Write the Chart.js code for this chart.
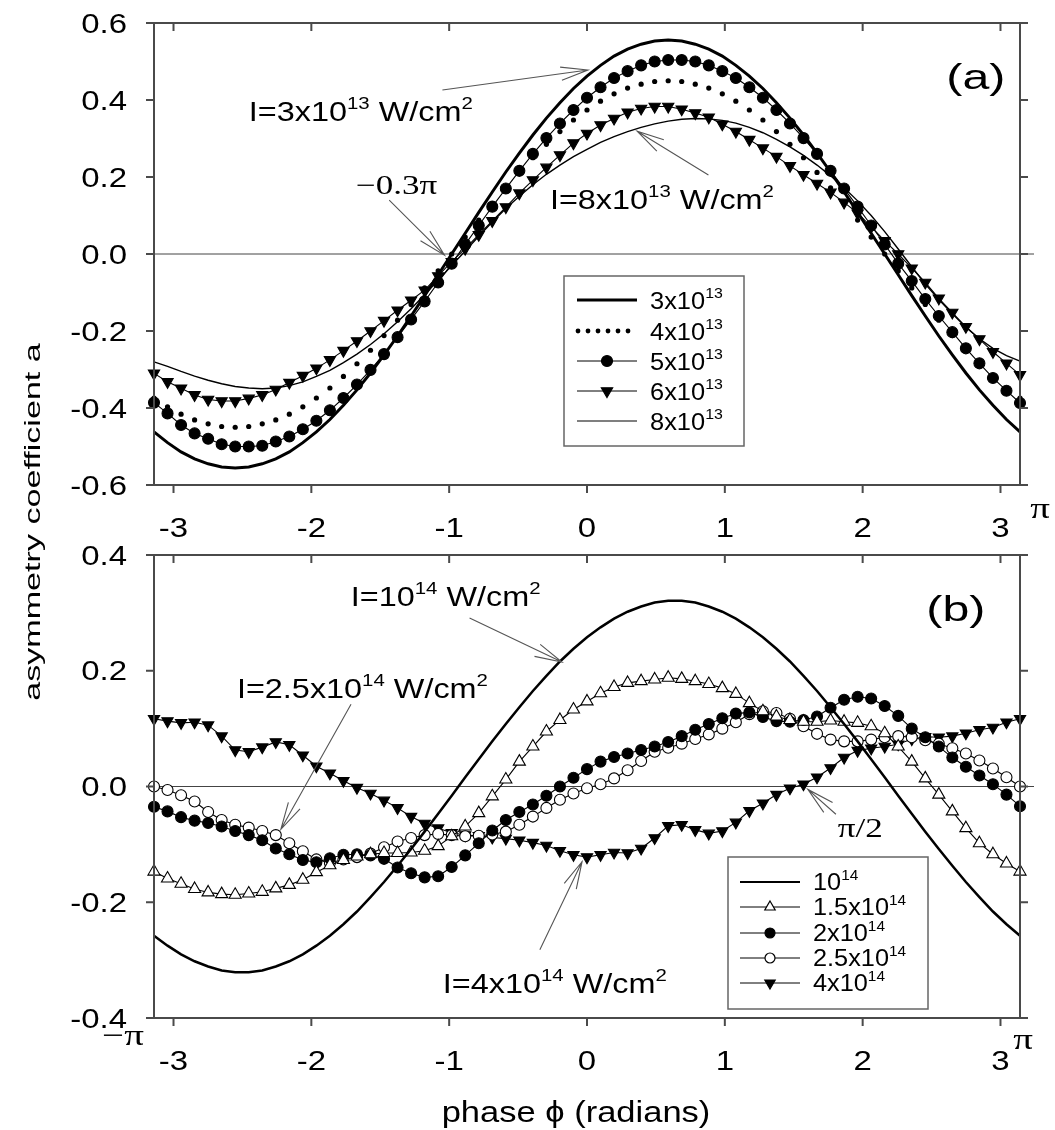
<!DOCTYPE html>
<html>
<head>
<meta charset="utf-8">
<script src="https://cdn.jsdelivr.net/npm/chart.js@4.4.1/dist/chart.umd.min.js"></script>
<style>
  html, body { margin: 0; padding: 0; background: #fff; }
  #wrap { position: relative; width: 1055px; height: 1130px; }
  #wrap canvas { position: absolute; left: 0; top: 0; }
</style>
</head>
<body>
<div id="wrap">
  <canvas id="chartA" width="1055" height="1130"></canvas>
  <canvas id="chartB" width="1055" height="1130"></canvas>
</div>
<script>
// phase grid: 65 samples from -pi to pi (step pi/32)
const phase = Array.from({ length: 65 }, (_, i) => -Math.PI + i * Math.PI / 32);

const xTicks = [-3, -2, -1, 0, 1, 2, 3];
const yTicksA = [-0.6, -0.4, -0.2, 0, 0.2, 0.4, 0.6];
const yTicksB = [-0.4, -0.2, 0, 0.2, 0.4];

const legendA = ['3x10^{13}', '4x10^{13}', '5x10^{13}', '6x10^{13}', '8x10^{13}'];
const legendB = ['10^{14}', '1.5x10^{14}', '2x10^{14}', '2.5x10^{14}', '4x10^{14}'];

// panel (a)
const a3e13 = [-0.462,-0.490,-0.514,-0.532,-0.545,-0.553,-0.556,-0.553,-0.545,-0.532,-0.514,-0.490,-0.462,-0.430,-0.393,-0.353,-0.309,-0.262,-0.213,-0.161,-0.108,-0.054,0.000,0.054,0.108,0.161,0.213,0.262,0.309,0.353,0.393,0.430,0.462,0.490,0.514,0.532,0.545,0.553,0.556,0.553,0.545,0.532,0.514,0.490,0.462,0.430,0.393,0.353,0.309,0.262,0.213,0.161,0.108,0.054,0.000,-0.054,-0.108,-0.161,-0.213,-0.262,-0.309,-0.353,-0.393,-0.430,-0.462];
const a4e13 = [-0.374,-0.397,-0.416,-0.431,-0.441,-0.448,-0.450,-0.448,-0.441,-0.431,-0.416,-0.397,-0.374,-0.348,-0.318,-0.285,-0.250,-0.212,-0.172,-0.131,-0.088,-0.044,0.000,0.044,0.088,0.131,0.172,0.212,0.250,0.285,0.318,0.348,0.374,0.397,0.416,0.431,0.441,0.448,0.450,0.448,0.441,0.431,0.416,0.397,0.374,0.348,0.318,0.285,0.250,0.212,0.172,0.131,0.088,0.044,0.000,-0.044,-0.088,-0.131,-0.172,-0.212,-0.250,-0.285,-0.318,-0.348,-0.374];
const a5e13 = [-0.386,-0.414,-0.444,-0.466,-0.480,-0.494,-0.500,-0.500,-0.498,-0.487,-0.474,-0.455,-0.433,-0.406,-0.374,-0.339,-0.301,-0.260,-0.216,-0.170,-0.123,-0.074,-0.025,0.025,0.074,0.123,0.170,0.216,0.260,0.301,0.339,0.374,0.406,0.433,0.457,0.475,0.490,0.500,0.504,0.504,0.500,0.490,0.475,0.457,0.433,0.406,0.374,0.339,0.301,0.260,0.216,0.170,0.123,0.074,0.025,-0.025,-0.070,-0.117,-0.161,-0.203,-0.245,-0.284,-0.322,-0.355,-0.387];
const a6e13 = [-0.310,-0.332,-0.349,-0.366,-0.378,-0.382,-0.382,-0.375,-0.366,-0.352,-0.334,-0.316,-0.297,-0.275,-0.251,-0.226,-0.200,-0.173,-0.146,-0.120,-0.094,-0.057,-0.020,0.014,0.050,0.086,0.122,0.158,0.192,0.225,0.257,0.288,0.313,0.335,0.352,0.368,0.378,0.383,0.383,0.376,0.366,0.355,0.337,0.318,0.297,0.275,0.253,0.229,0.206,0.183,0.160,0.134,0.106,0.071,0.034,0.000,-0.037,-0.074,-0.115,-0.152,-0.189,-0.221,-0.254,-0.284,-0.314];
const a8e13 = [-0.280,-0.292,-0.305,-0.317,-0.328,-0.337,-0.344,-0.348,-0.350,-0.348,-0.342,-0.332,-0.318,-0.302,-0.282,-0.260,-0.235,-0.207,-0.176,-0.142,-0.106,-0.068,-0.030,0.008,0.046,0.083,0.118,0.150,0.180,0.207,0.231,0.253,0.272,0.290,0.305,0.318,0.329,0.338,0.345,0.350,0.352,0.351,0.347,0.340,0.329,0.315,0.298,0.278,0.256,0.231,0.203,0.172,0.138,0.100,0.058,0.013,-0.033,-0.078,-0.118,-0.155,-0.190,-0.220,-0.245,-0.264,-0.278];

// panel (b)
const b1e14 = [-0.258,-0.275,-0.290,-0.302,-0.311,-0.318,-0.321,-0.321,-0.318,-0.311,-0.302,-0.290,-0.275,-0.258,-0.238,-0.216,-0.191,-0.165,-0.137,-0.108,-0.078,-0.047,-0.016,0.016,0.047,0.078,0.108,0.137,0.165,0.191,0.216,0.238,0.258,0.275,0.290,0.302,0.311,0.318,0.321,0.321,0.318,0.311,0.302,0.290,0.275,0.258,0.238,0.216,0.191,0.165,0.137,0.108,0.078,0.047,0.016,-0.016,-0.047,-0.078,-0.108,-0.137,-0.165,-0.191,-0.216,-0.238,-0.258];
const b15e14 = [-0.147,-0.159,-0.168,-0.177,-0.183,-0.186,-0.187,-0.185,-0.182,-0.176,-0.170,-0.161,-0.148,-0.136,-0.127,-0.121,-0.117,-0.115,-0.115,-0.114,-0.111,-0.103,-0.086,-0.069,-0.046,-0.017,0.012,0.043,0.069,0.095,0.115,0.133,0.147,0.161,0.172,0.179,0.182,0.185,0.188,0.186,0.182,0.177,0.170,0.160,0.144,0.130,0.121,0.115,0.112,0.112,0.114,0.112,0.110,0.104,0.092,0.069,0.043,0.014,-0.014,-0.043,-0.072,-0.098,-0.117,-0.133,-0.147];
const b2e14 = [-0.035,-0.043,-0.053,-0.059,-0.063,-0.069,-0.077,-0.084,-0.093,-0.107,-0.117,-0.127,-0.131,-0.124,-0.118,-0.117,-0.119,-0.125,-0.140,-0.150,-0.157,-0.155,-0.139,-0.119,-0.098,-0.076,-0.058,-0.044,-0.031,-0.016,0.000,0.015,0.030,0.043,0.051,0.057,0.063,0.069,0.077,0.087,0.098,0.108,0.118,0.126,0.128,0.120,0.113,0.112,0.115,0.121,0.136,0.150,0.155,0.152,0.139,0.122,0.100,0.085,0.069,0.050,0.034,0.019,0.004,-0.014,-0.034];
const b25e14 = [0.000,-0.006,-0.015,-0.026,-0.044,-0.058,-0.066,-0.071,-0.077,-0.084,-0.098,-0.112,-0.126,-0.132,-0.126,-0.122,-0.116,-0.105,-0.095,-0.089,-0.084,-0.082,-0.084,-0.086,-0.085,-0.083,-0.078,-0.066,-0.052,-0.037,-0.023,-0.012,-0.003,0.004,0.014,0.028,0.044,0.060,0.067,0.074,0.082,0.090,0.100,0.111,0.125,0.130,0.127,0.117,0.104,0.091,0.081,0.078,0.078,0.081,0.085,0.087,0.085,0.080,0.074,0.066,0.057,0.045,0.031,0.016,0.000];
const b4e14 = [0.117,0.113,0.110,0.111,0.106,0.087,0.063,0.060,0.068,0.077,0.072,0.054,0.035,0.023,0.010,-0.002,-0.012,-0.024,-0.037,-0.052,-0.064,-0.072,-0.080,-0.084,-0.085,-0.088,-0.090,-0.093,-0.097,-0.102,-0.111,-0.118,-0.122,-0.118,-0.114,-0.115,-0.107,-0.089,-0.068,-0.066,-0.075,-0.081,-0.077,-0.062,-0.042,-0.029,-0.014,-0.003,0.004,0.016,0.032,0.050,0.062,0.066,0.069,0.073,0.082,0.086,0.085,0.087,0.092,0.098,0.102,0.111,0.117];

const SANS = '"Liberation Sans", Arial, Helvetica, sans-serif';
const SERIF = '"Liberation Serif", "Times New Roman", serif';

// text with ^{..} superscripts, optionally stretched along its direction
function richText(ctx, str, x, y, o) {
  const size = o.size, fam = o.family || SANS, sx = o.sx || 1;
  const supSize = Math.round(size * 0.62);
  const parts = [];
  str.split(/(\^\{[^}]*\})/).forEach(s => {
    if (!s) return;
    if (s.startsWith('^{')) parts.push({ t: s.slice(2, -1), sup: true });
    else parts.push({ t: s, sup: false });
  });
  ctx.save();
  let w = 0;
  parts.forEach(p => {
    ctx.font = (p.sup ? supSize : size) + 'px ' + fam;
    p.w = ctx.measureText(p.t).width;
    w += p.w;
  });
  ctx.translate(x, y);
  if (o.rotate) ctx.rotate(o.rotate);
  ctx.scale(sx, 1);
  let cx = o.align === 'center' ? -w / 2 : o.align === 'right' ? -w : 0;
  const base = size * 0.36;
  ctx.fillStyle = '#000';
  ctx.textAlign = 'left';
  ctx.textBaseline = 'alphabetic';
  parts.forEach(p => {
    ctx.font = (p.sup ? supSize : size) + 'px ' + fam;
    ctx.fillText(p.t, cx, p.sup ? base - size * 0.45 : base);
    cx += p.w;
  });
  ctx.restore();
}

function arrow(ctx, x1, y1, x2, y2) {
  const a = Math.atan2(y2 - y1, x2 - x1), L = 28, h = 0.24;
  ctx.save();
  ctx.strokeStyle = '#555';
  ctx.lineWidth = 1.1;
  ctx.beginPath();
  ctx.moveTo(x1, y1); ctx.lineTo(x2, y2);
  ctx.moveTo(x2 - L * Math.cos(a - h), y2 - L * Math.sin(a - h));
  ctx.lineTo(x2, y2);
  ctx.lineTo(x2 - L * Math.cos(a + h), y2 - L * Math.sin(a + h));
  ctx.stroke();
  ctx.restore();
}

function marker(ctx, kind, x, y, r) {
  ctx.save();
  ctx.beginPath();
  if (kind.startsWith('circle')) {
    ctx.arc(x, y, r, 0, 2 * Math.PI);
  } else {
    const d = kind.includes('Down') ? -1 : 1;
    ctx.moveTo(x, y - d * r);
    ctx.lineTo(x + r * 0.866, y + d * r * 0.5);
    ctx.lineTo(x - r * 0.866, y + d * r * 0.5);
    ctx.closePath();
  }
  ctx.fillStyle = kind.includes('Open') ? '#fff' : '#000';
  ctx.fill();
  ctx.lineWidth = 1.2;
  ctx.strokeStyle = '#000';
  ctx.stroke();
  ctx.restore();
}

function tickText(v) {
  return (v < 0 ? '-' : '') + Math.abs(v).toFixed(1);
}

function panelPlugin(cfg) {
  return {
    id: 'panel' + cfg.name,
    beforeDatasetsDraw(chart) {
      const { ctx, chartArea: ca, scales: { y } } = chart;
      const y0 = y.getPixelForValue(0);
      ctx.save();
      ctx.strokeStyle = '#444';
      ctx.lineWidth = 1;
      ctx.beginPath();
      ctx.moveTo(ca.left, y0);
      ctx.lineTo(ca.right + 14, y0);
      ctx.stroke();
      ctx.restore();
    },
    afterDraw(chart) {
      const { ctx, chartArea: ca, scales: { x, y } } = chart;
      // frame and ticks
      ctx.save();
      ctx.strokeStyle = '#4a4a4a';
      ctx.lineWidth = 2;
      ctx.beginPath();
      ctx.moveTo(ca.left - 8, ca.top); ctx.lineTo(ca.right + 8, ca.top);
      ctx.moveTo(ca.left - 8, ca.bottom); ctx.lineTo(ca.right + 8, ca.bottom);
      ctx.moveTo(ca.left, ca.top); ctx.lineTo(ca.left, ca.bottom);
      ctx.moveTo(ca.right, ca.top); ctx.lineTo(ca.right, ca.bottom);
      cfg.yTicks.forEach(v => {
        const py = y.getPixelForValue(v);
        ctx.moveTo(ca.left - 8, py); ctx.lineTo(ca.left, py);
        ctx.moveTo(ca.right, py); ctx.lineTo(ca.right + 8, py);
      });
      xTicks.forEach(v => {
        const px = x.getPixelForValue(v);
        ctx.moveTo(px, ca.top); ctx.lineTo(px, ca.top + 8);
        ctx.moveTo(px, ca.bottom); ctx.lineTo(px, ca.bottom + 8);
      });
      ctx.stroke();
      ctx.restore();

      cfg.yTicks.forEach(v => {
        richText(ctx, tickText(v), ca.left - 27, y.getPixelForValue(v), { size: 27, sx: 1.22, align: 'right' });
      });
      xTicks.forEach(v => {
        richText(ctx, String(v), x.getPixelForValue(v), ca.bottom + 42, { size: 27, sx: 1.22, align: 'center' });
      });

      // legend
      const lg = cfg.legend;
      ctx.save();
      ctx.fillStyle = '#fff';
      ctx.fillRect(lg.box[0], lg.box[1], lg.box[2] - lg.box[0], lg.box[3] - lg.box[1]);
      ctx.strokeStyle = '#666';
      ctx.lineWidth = 1.5;
      ctx.strokeRect(lg.box[0], lg.box[1], lg.box[2] - lg.box[0], lg.box[3] - lg.box[1]);
      lg.styles.forEach((st, i) => {
        const ry = lg.rows[i];
        if (st.dots) {
          ctx.fillStyle = '#000';
          for (let k = 0; k < 6; k++) {
            ctx.beginPath();
            ctx.arc(lg.x0 + 1 + k * 10, ry, 2.4, 0, 2 * Math.PI);
            ctx.fill();
          }
        } else {
          ctx.strokeStyle = '#000';
          ctx.lineWidth = st.line;
          ctx.beginPath();
          ctx.moveTo(lg.x0, ry); ctx.lineTo(lg.x1, ry);
          ctx.stroke();
        }
        if (st.mark) marker(ctx, st.mark, (lg.x0 + lg.x1) / 2, ry, st.r);
        richText(ctx, lg.labels[i], lg.labelX, ry, { size: lg.size, sx: lg.sx });
      });
      ctx.restore();

      // annotations
      cfg.notes.forEach(n => {
        richText(ctx, n.text, x.getPixelForValue(n.x), y.getPixelForValue(n.y),
          { size: n.size || 27, sx: n.sx || 1.2, family: n.family });
      });
      cfg.arrows.forEach(a => {
        arrow(ctx, x.getPixelForValue(a[0]), y.getPixelForValue(a[1]),
          x.getPixelForValue(a[2]), y.getPixelForValue(a[3]));
      });
      if (cfg.extra) cfg.extra(ctx, ca);
    }
  };
}

function series(vals, style) {
  return Object.assign({
    data: vals.map((v, i) => ({ x: phase[i], y: v })),
    borderColor: '#000',
    backgroundColor: '#000',
    borderWidth: 1.1,
    pointRadius: 0,
    pointBorderColor: '#000',
    pointBackgroundColor: '#000',
    pointBorderWidth: 1.1,
    tension: 0,
    clip: false
  }, style);
}

function baseOptions(yMin, yMax, pad) {
  return {
    responsive: false,
    animation: false,
    devicePixelRatio: 1,
    events: [],
    layout: { padding: pad },
    plugins: { legend: { display: false }, tooltip: { enabled: false } },
    scales: {
      x: { type: 'linear', min: -Math.PI, max: Math.PI, display: false },
      y: { type: 'linear', min: yMin, max: yMax, display: false }
    }
  };
}

// ---------- panel (a)
new Chart(document.getElementById('chartA'), {
  type: 'line',
  data: {
    datasets: [
      series(a3e13, { borderWidth: 3 }),
      series(a4e13, { showLine: false, pointRadius: 2.6, pointBorderWidth: 0 }),
      series(a5e13, { pointRadius: 5.5, pointStyle: 'circle' }),
      series(a6e13, { pointRadius: 6.5, pointStyle: 'triangle', pointRotation: 180 }),
      series(a8e13, { borderWidth: 1.4 })
    ]
  },
  options: baseOptions(-0.6, 0.6, { left: 154, right: 35, top: 23, bottom: 645 }),
  plugins: [panelPlugin({
    name: 'A',
    yTicks: yTicksA,
    legend: {
      box: [564, 276, 744, 446], rows: [300, 331, 361, 391, 421],
      x0: 577, x1: 637, labelX: 650, size: 24, sx: 1.06, labels: legendA,
      styles: [{ line: 3 }, { dots: true }, { line: 1, mark: 'circle', r: 5.5 },
               { line: 1, mark: 'triDown', r: 6.5 }, { line: 1.2 }]
    },
    notes: [
      { text: 'I=3x10^{13} W/cm^{2}', x: -2.454, y: 0.371 },
      { text: '\u22120.3\u03c0', x: -1.677, y: 0.18, family: SERIF, size: 27, sx: 1.3 },
      { text: 'I=8x10^{13} W/cm^{2}', x: -0.269, y: 0.143 },
      { text: '(a)', x: 2.607, y: 0.462, size: 35, sx: 1.38 }
    ],
    arrows: [
      [-1.049, 0.426, 0.007, 0.478],
      [-1.435, 0.140, -1.034, -0.003],
      [0.881, 0.205, 0.364, 0.319]
    ],
    extra(ctx, ca) {
      richText(ctx, '\u03c0', ca.right + 20, ca.bottom + 22, { size: 30, sx: 1.3, family: SERIF, align: 'center' });
    }
  })]
});

// ---------- panel (b)
new Chart(document.getElementById('chartB'), {
  type: 'line',
  data: {
    datasets: [
      series(b1e14, { borderWidth: 2.5 }),
      series(b15e14, { pointRadius: 7, pointStyle: 'triangle', pointBackgroundColor: '#fff' }),
      series(b2e14, { pointRadius: 5.5, pointStyle: 'circle' }),
      series(b25e14, { pointRadius: 5.5, pointStyle: 'circle', pointBackgroundColor: '#fff' }),
      series(b4e14, { pointRadius: 6.5, pointStyle: 'triangle', pointRotation: 180 })
    ]
  },
  options: baseOptions(-0.4, 0.4, { left: 154, right: 35, top: 555, bottom: 112 }),
  plugins: [panelPlugin({
    name: 'B',
    yTicks: yTicksB,
    legend: {
      box: [728, 857, 928, 1009], rows: [882, 907, 933, 958, 983],
      x0: 740, x1: 800, labelX: 813, size: 23, sx: 1.1, labels: legendB,
      styles: [{ line: 2 }, { line: 1, mark: 'triOpen', r: 6 }, { line: 1, mark: 'circle', r: 5 },
               { line: 1, mark: 'circleOpen', r: 5 }, { line: 1, mark: 'triDown', r: 6 }]
    },
    notes: [
      { text: 'I=10^{14} W/cm^{2}', x: -1.714, y: 0.329 },
      { text: 'I=2.5x10^{14} W/cm^{2}', x: -2.540, y: 0.169 },
      { text: '\u03c0/2', x: 1.819, y: -0.071, family: SERIF, size: 27, sx: 1.3 },
      { text: 'I=4x10^{14} W/cm^{2}', x: -1.046, y: -0.340 },
      { text: '(b)', x: 2.462, y: 0.308, size: 35, sx: 1.38 }
    ],
    arrows: [
      [-0.852, 0.291, -0.182, 0.215],
      [-1.712, 0.142, -2.221, -0.074],
      [1.806, -0.048, 1.602, -0.005],
      [-0.342, -0.282, -0.036, -0.130]
    ],
    extra(ctx, ca) {
      richText(ctx, '\u03c0', ca.right + 3, ca.bottom + 20, { size: 30, sx: 1.3, family: SERIF, align: 'center' });
      richText(ctx, '\u2212\u03c0', ca.left - 31, ca.bottom + 16, { size: 30, sx: 1.3, family: SERIF, align: 'center' });
      richText(ctx, 'phase \u03d5 (radians)', 576, 1112, { size: 29, sx: 1.19, align: 'center' });
      richText(ctx, 'asymmetry coefficient a', 32, 522, { size: 22, sx: 1.55, align: 'center', rotate: -Math.PI / 2 });
    }
  })]
});
</script>
</body>
</html>
